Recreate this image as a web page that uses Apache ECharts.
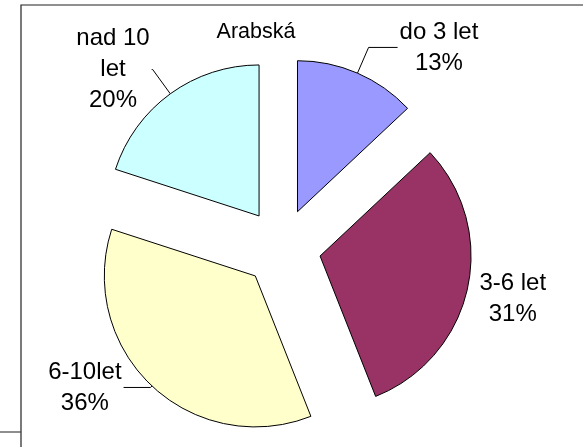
<!DOCTYPE html>
<html>
<head>
<meta charset="utf-8">
<script src="https://cdn.jsdelivr.net/npm/echarts@6/dist/echarts.min.js"></script>
<style>
  html, body { margin: 0; padding: 0; background: #fff; }
  #chart { width: 583px; height: 447px; }
</style>
</head>
<body>
<div id="chart"></div>
<script>
// data
const categories = ['do 3 let', '3-6 let', '6-10let', 'nad 10\nlet'];
const shares = [13, 31, 36, 20];
const colors = ['#9999ff', '#993366', '#ffffcc', '#ccffff'];
const titleText = 'Arabská';

// per-slice label line lengths (Excel put them by hand)
const lineLen = [[28, 29], [2, 4], [2, 27], [30, 1]];

const chart = echarts.init(document.getElementById('chart'));

const pieData = categories.map((name, i) => ({
  name: name,
  value: shares[i],
  selected: true,
  itemStyle: { color: colors[i] },
  labelLine: { show: i !== 1, length: lineLen[i][0], length2: lineLen[i][1] }
}));

chart.setOption({
  animation: false,
  backgroundColor: '#fff',
  title: {
    text: titleText,
    left: 256,
    top: 21,
    padding: 0,
    textAlign: 'center',
    textStyle: { fontFamily: 'Liberation Sans', fontSize: 21.5, fontWeight: 'normal', color: '#000' }
  },
  graphic: [
    { type: 'rect', shape: { x: 21, y: 5, width: 600, height: 480 },
      style: { fill: 'none', stroke: '#222', lineWidth: 1.2 }, silent: true },
    { type: 'line', shape: { x1: 0, y1: 432, x2: 21, y2: 432 },
      style: { stroke: '#444', lineWidth: 1.2 }, silent: true }
  ],
  series: [{
    type: 'pie',
    center: [282, 247.5],
    radius: [0, 151],
    startAngle: 90,
    clockwise: true,
    selectedMode: 'multiple',
    selectedOffset: 39,
    avoidLabelOverlap: false,
    itemStyle: { borderColor: '#000', borderWidth: 1 },
    emphasis: { disabled: true },
    select: { itemStyle: { borderColor: '#000', borderWidth: 1 } },
    label: {
      position: 'outside',
      distanceToLabelLine: 2,
      formatter: p => '{a|' + p.name + '}\n{a|' + p.value + '%}',
      rich: {
        a: { align: 'center', fontFamily: 'Liberation Sans', fontSize: 24, lineHeight: 31, color: '#000' }
      }
    },
    labelLine: { lineStyle: { color: '#000', width: 1 } },
    // the 3-6 let label sits a bit lower than the plain outside spot
    labelLayout: p => (p.dataIndex === 1 ? { dx: 4, dy: 9 } : {}),
    data: pieData
  }]
});
</script>
</body>
</html>
